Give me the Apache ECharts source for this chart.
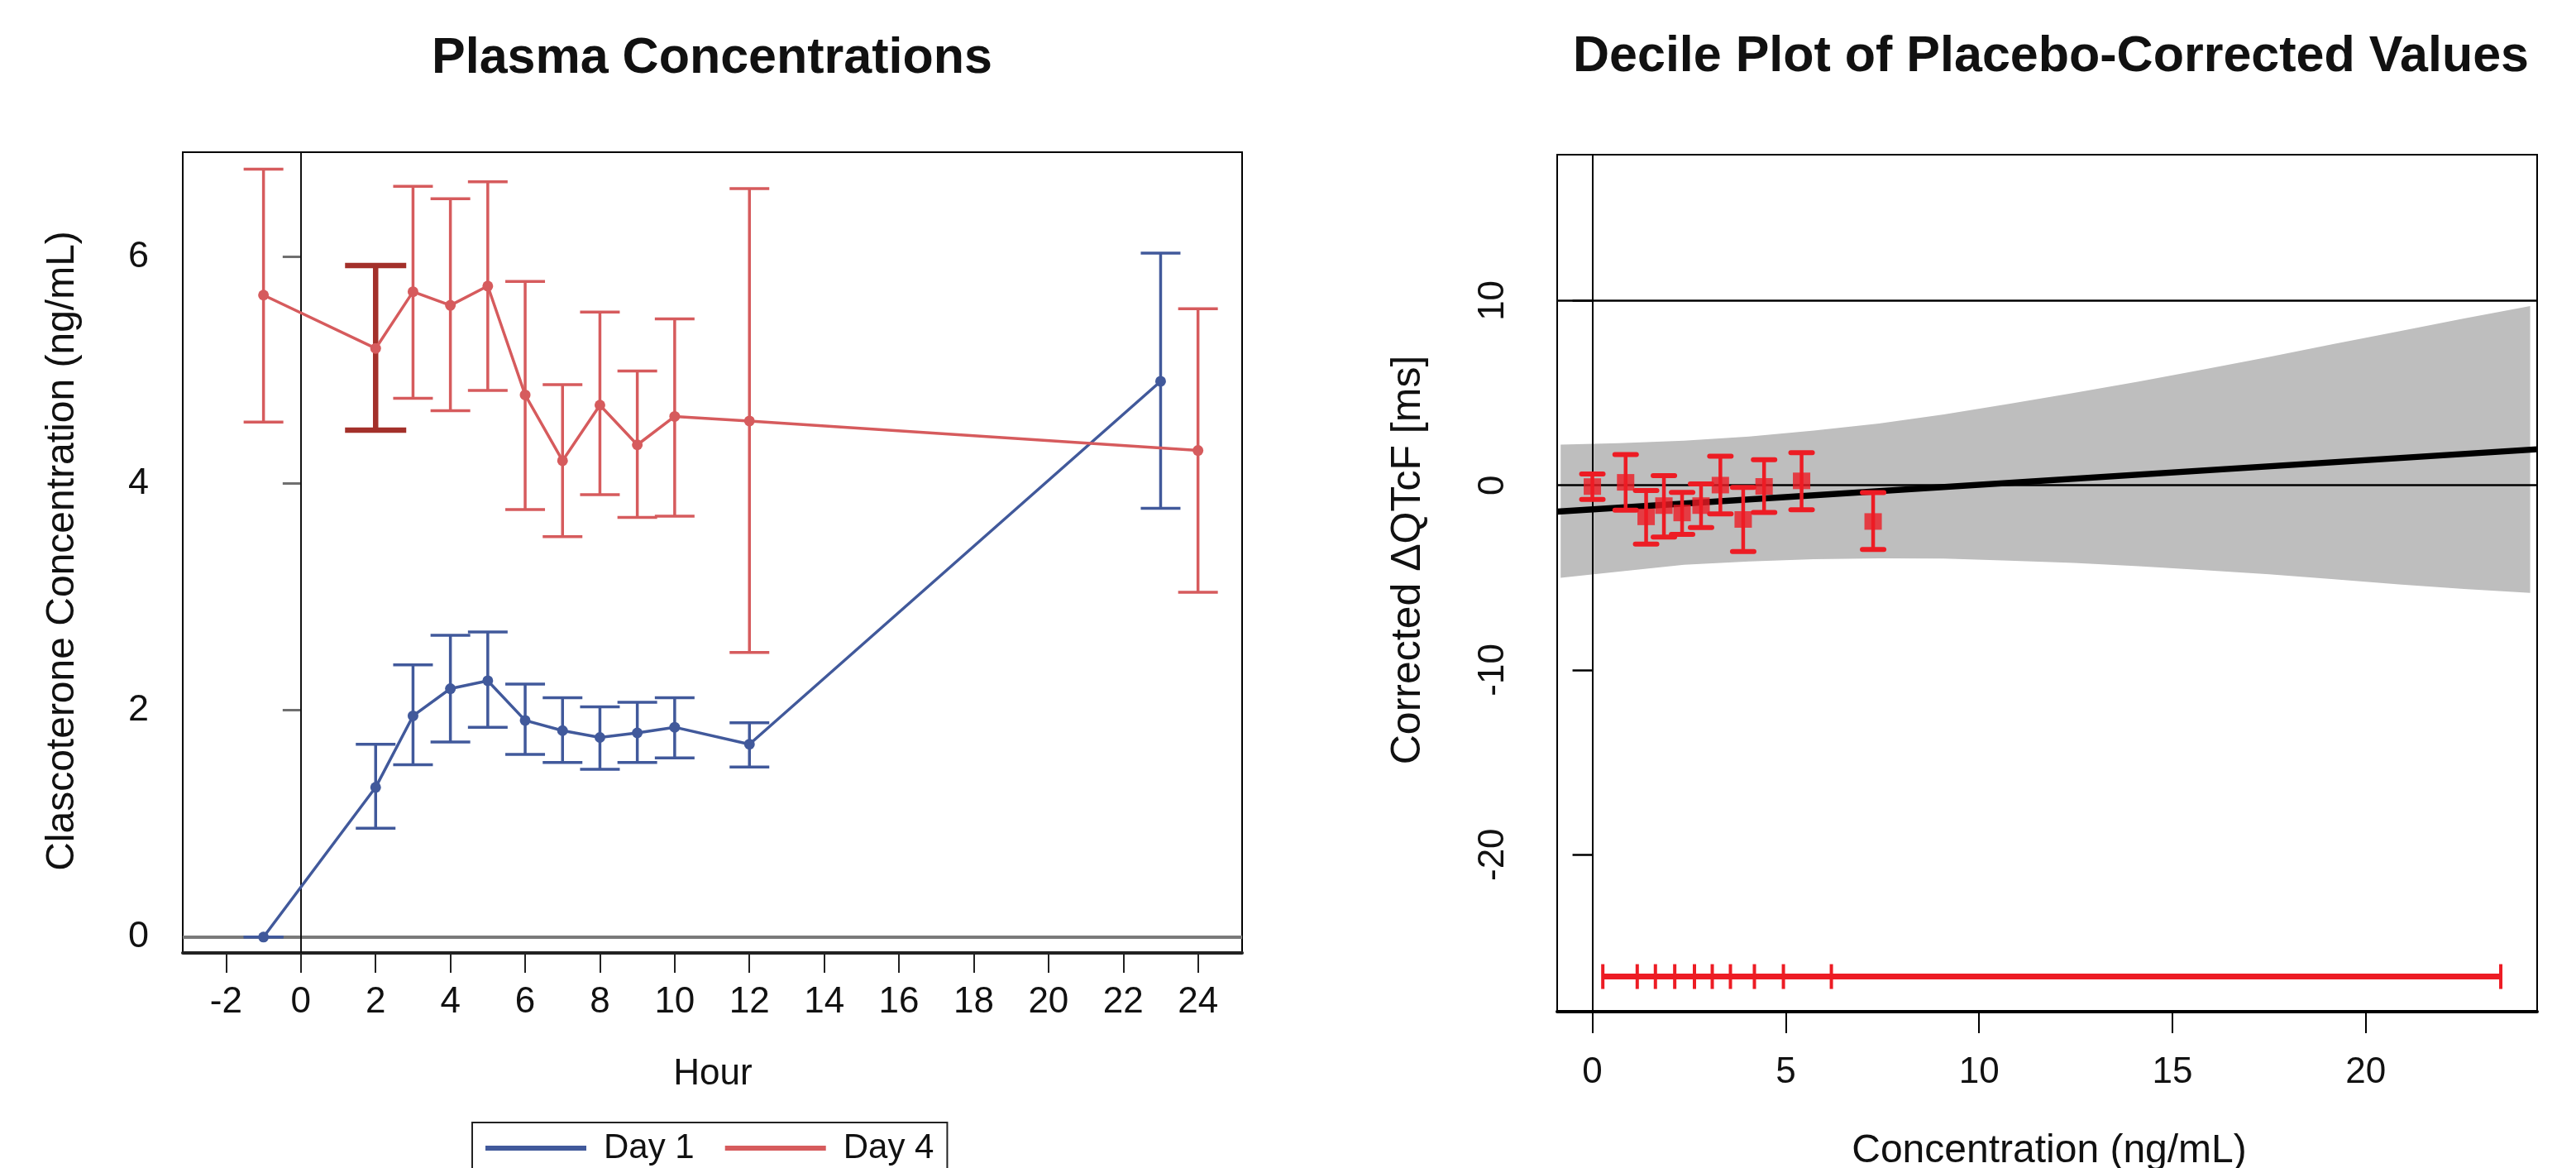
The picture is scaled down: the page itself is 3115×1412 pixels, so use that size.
<!DOCTYPE html>
<html>
<head>
<meta charset="utf-8">
<script src="https://cdn.jsdelivr.net/npm/echarts@6/dist/echarts.min.js"></script>
<style>
html,body{margin:0;padding:0;background:#ffffff;}
#chart{width:3115px;height:1412px;}
</style>
</head>
<body>
<div id="chart"></div>
<script>
// ---------------- Left panel: Plasma Concentrations ----------------
const hourTicks = [-2, 0, 2, 4, 6, 8, 10, 12, 14, 16, 18, 20, 22, 24];
const concTicks = [0, 2, 4, 6];

const day1Hours = [-1, 2, 3, 4, 5, 6, 7, 8, 9, 10, 12, 23];
const day1Mean  = [0, 1.32, 1.95, 2.19, 2.26, 1.91, 1.82, 1.76, 1.80, 1.85, 1.70, 4.90];
const day1Lower = [0, 0.96, 1.52, 1.72, 1.85, 1.61, 1.54, 1.48, 1.54, 1.58, 1.50, 3.78];
const day1Upper = [0, 1.70, 2.40, 2.66, 2.69, 2.23, 2.11, 2.03, 2.07, 2.11, 1.89, 6.03];

const day4Hours = [-1, 2, 3, 4, 5, 6, 7, 8, 9, 10, 12, 24];
const day4Mean  = [5.66, 5.19, 5.69, 5.57, 5.74, 4.78, 4.20, 4.69, 4.34, 4.59, 4.55, 4.29];
const day4Lower = [4.54, 4.47, 4.75, 4.64, 4.82, 3.77, 3.53, 3.90, 3.70, 3.71, 2.51, 3.04];
const day4Upper = [6.77, 5.92, 6.62, 6.51, 6.66, 5.78, 4.87, 5.51, 4.99, 5.45, 6.60, 5.54];
const day4HighlightHour = 2;

// ---------------- Right panel: Decile plot ----------------
const concAxisTicks = [0, 5, 10, 15, 20];
const qtAxisTicks = [-20, -10, 0, 10];
const qtRefLines = [0, 10];

const decileConc   = [0, 0.86, 1.39, 1.85, 2.32, 2.81, 3.31, 3.90, 4.44, 5.41, 7.26];
const decileDQTcF  = [-0.07, 0.16, -1.71, -1.10, -1.50, -1.10, 0.01, -1.85, -0.06, 0.24, -1.96];
const decileLower  = [-0.76, -1.35, -3.18, -2.80, -2.66, -2.29, -1.55, -3.59, -1.47, -1.32, -3.48];
const decileUpper  = [0.61, 1.67, -0.28, 0.52, -0.39, 0.07, 1.58, -0.12, 1.38, 1.76, -0.40];

const decileBounds = [0.27, 1.16, 1.63, 2.13, 2.64, 3.10, 3.57, 4.19, 4.94, 6.18, 23.49];
const decileBarLevel = -26.6;

const fitConc  = [-0.91, 24.43];
const fitDQTcF = [-1.43, 1.95];

const bandConc  = [-0.82, 0.69, 2.37, 4.05, 5.73, 7.41, 9.09, 10.77, 12.45, 14.13, 15.82, 17.50, 19.18, 20.86, 22.54, 24.25];
const bandUpper = [2.20, 2.28, 2.42, 2.64, 2.96, 3.34, 3.84, 4.41, 5.00, 5.62, 6.28, 6.95, 7.65, 8.34, 9.03, 9.70];
const bandLower = [-5.01, -4.67, -4.30, -4.12, -4.00, -3.96, -3.97, -4.08, -4.20, -4.38, -4.60, -4.82, -5.09, -5.37, -5.61, -5.83];

// ---------------- Styling ----------------
const FONT = "'Liberation Sans', Arial, Helvetica, sans-serif";
const BLUE = '#41599B';
const RED = '#D65B5D';
const DARKRED = '#A3302A';
const BRIGHTRED = '#ED1C24';

function errorBarRenderer(o) {
  return function (params, api) {
    const x = api.value(0), lo = api.value(1), hi = api.value(2);
    const hl = o.highlightX !== undefined && x === o.highlightX;
    const color = hl ? o.hiColor : o.color;
    const lw = hl ? o.hiWidth : o.width;
    const half = hl ? o.hiCap : o.cap;
    const a = api.coord([x, hi]);
    const b = api.coord([x, lo]);
    const style = { stroke: color, lineWidth: lw, lineCap: o.lineCap || 'butt', fill: null };
    const capStyle = { stroke: color, lineWidth: hl ? lw : (o.capWidth || lw), lineCap: o.lineCap || 'butt', fill: null };
    return {
      type: 'group',
      children: [
        { type: 'line', shape: { x1: a[0], y1: a[1], x2: b[0], y2: b[1] }, style: style },
        { type: 'line', shape: { x1: a[0] - half, y1: a[1], x2: a[0] + half, y2: a[1] }, style: capStyle },
        { type: 'line', shape: { x1: b[0] - half, y1: b[1], x2: b[0] + half, y2: b[1] }, style: capStyle }
      ]
    };
  };
}

const chart = echarts.init(document.getElementById('chart'), null, { renderer: 'canvas' });

const option = {
  animation: false,
  backgroundColor: '#ffffff',
  textStyle: { fontFamily: FONT },
  grid: [
    { left: 221, top: 184, width: 1281, height: 968, show: true, borderColor: '#000', borderWidth: 2, backgroundColor: 'transparent' },
    { left: 1883, top: 187, width: 1185, height: 1036, show: true, borderColor: '#000', borderWidth: 2, backgroundColor: 'transparent' }
  ],
  xAxis: [
    {
      gridIndex: 0, type: 'value', min: -3.16, max: 25.18,
      axisLine: { show: true, onZero: false, lineStyle: { color: '#222', width: 4 } },
      axisTick: { show: true, length: 24, customValues: hourTicks, lineStyle: { color: '#222', width: 2 } },
      axisLabel: { show: true, customValues: hourTicks, margin: 38, fontSize: 44, color: '#111', fontFamily: FONT },
      splitLine: { show: false }
    },
    {
      gridIndex: 1, type: 'value', min: -0.91, max: 24.43,
      axisLine: { show: true, onZero: false, lineStyle: { color: '#000', width: 4 } },
      axisTick: { show: true, length: 26, customValues: concAxisTicks, lineStyle: { color: '#000', width: 2 } },
      axisLabel: { show: true, customValues: concAxisTicks, margin: 52, fontSize: 44, color: '#111', fontFamily: FONT },
      splitLine: { show: false }
    }
  ],
  yAxis: [
    {
      gridIndex: 0, type: 'value', min: -0.14, max: 6.92,
      axisLine: { show: false },
      axisTick: { show: true, length: 22, customValues: concTicks, lineStyle: { color: '#6f6f6f', width: 3 } },
      axisLabel: { show: true, customValues: concTicks, margin: 41, fontSize: 45, color: '#111', fontFamily: FONT },
      splitLine: { show: false }
    },
    {
      gridIndex: 1, type: 'value', min: -28.5, max: 17.9,
      axisLine: { show: false },
      axisTick: { show: true, length: 24, customValues: qtAxisTicks, lineStyle: { color: '#000', width: 2.5 } },
      axisLabel: { show: true, customValues: qtAxisTicks, rotate: 90, margin: 55, fontSize: 44, color: '#111', fontFamily: FONT },
      splitLine: { show: false }
    }
  ],
  legend: {
    data: ['Day 1', 'Day 4'],
    left: 571, top: 1357,
    orient: 'horizontal',
    icon: 'rect',
    itemWidth: 122, itemHeight: 6, itemGap: 37,
    padding: [10, 16, 30, 16],
    borderColor: '#222', borderWidth: 2,
    textStyle: { fontSize: 42, color: '#111', fontFamily: FONT, padding: [0, 0, 0, 16] },
    selectedMode: false
  },
  graphic: [
    { type: 'text', x: 861, y: 71, style: { text: 'Plasma Concentrations', font: "bold 61px " + FONT, fill: '#111', textAlign: 'center', textVerticalAlign: 'middle' } },
    { type: 'text', x: 2480, y: 69, style: { text: 'Decile Plot of Placebo-Corrected Values', font: "bold 61px " + FONT, fill: '#111', textAlign: 'center', textVerticalAlign: 'middle' } },
    { type: 'text', x: 76, y: 666, rotation: Math.PI / 2, style: { text: 'Clascoterone Concentration (ng/mL)', font: "48px " + FONT, fill: '#111', textAlign: 'center', textVerticalAlign: 'middle' } },
    { type: 'text', x: 862, y: 1299, style: { text: 'Hour', font: "44px " + FONT, fill: '#111', textAlign: 'center', textVerticalAlign: 'middle' } },
    { type: 'text', x: 1703, y: 677, rotation: Math.PI / 2, style: { text: 'Corrected \u0394QTcF [ms]', font: "50px " + FONT, fill: '#111', textAlign: 'center', textVerticalAlign: 'middle' } },
    { type: 'text', x: 2478, y: 1392, style: { text: 'Concentration (ng/mL)', font: "48px " + FONT, fill: '#111', textAlign: 'center', textVerticalAlign: 'middle' } }
  ],
  series: [
    // ----- left reference lines -----
    {
      type: 'line', xAxisIndex: 0, yAxisIndex: 0, data: [], silent: true, z: 1,
      markLine: {
        silent: true, symbol: 'none', z: 1, label: { show: false },
        data: [
          { yAxis: 0, lineStyle: { color: '#7a7a7a', width: 4, type: 'solid' } },
          { xAxis: 0, lineStyle: { color: '#111', width: 2, type: 'solid' } }
        ]
      }
    },
    // ----- Day 1 -----
    {
      type: 'custom', xAxisIndex: 0, yAxisIndex: 0, z: 3,
      itemStyle: { color: BLUE },
      renderItem: errorBarRenderer({ color: BLUE, width: 3.5, cap: 24 }),
      data: day1Hours.map((h, i) => [h, day1Lower[i], day1Upper[i]]),
      encode: { x: 0, y: [1, 2] }
    },
    {
      name: 'Day 1', type: 'line', xAxisIndex: 0, yAxisIndex: 0, z: 4,
      data: day1Hours.map((h, i) => [h, day1Mean[i]]),
      symbol: 'circle', symbolSize: 13, showSymbol: true,
      itemStyle: { color: BLUE }, lineStyle: { color: BLUE, width: 3.5 }
    },
    // ----- Day 4 -----
    {
      type: 'custom', xAxisIndex: 0, yAxisIndex: 0, z: 5,
      itemStyle: { color: RED },
      renderItem: errorBarRenderer({ color: RED, width: 3.5, cap: 24, highlightX: day4HighlightHour, hiColor: DARKRED, hiWidth: 6.5, hiCap: 37 }),
      data: day4Hours.map((h, i) => [h, day4Lower[i], day4Upper[i]]),
      encode: { x: 0, y: [1, 2] }
    },
    {
      name: 'Day 4', type: 'line', xAxisIndex: 0, yAxisIndex: 0, z: 6,
      data: day4Hours.map((h, i) => [h, day4Mean[i]]),
      symbol: 'circle', symbolSize: 13, showSymbol: true,
      itemStyle: { color: RED }, lineStyle: { color: RED, width: 3.5 }
    },
    // ----- right: confidence band -----
    {
      type: 'custom', xAxisIndex: 1, yAxisIndex: 1, z: 1, silent: true,
      itemStyle: { color: '#BEBEBE' },
      data: [[bandConc[0], bandLower[0]]],
      renderItem: function (params, api) {
        const pts = [];
        for (let i = 0; i < bandConc.length; i++) pts.push(api.coord([bandConc[i], bandUpper[i]]));
        for (let i = bandConc.length - 1; i >= 0; i--) pts.push(api.coord([bandConc[i], bandLower[i]]));
        return { type: 'polygon', shape: { points: pts }, style: { fill: '#BEBEBE', stroke: null } };
      },
      markLine: {
        silent: true, symbol: 'none', z: 2, label: { show: false },
        lineStyle: { color: '#000', width: 2.5, type: 'solid' },
        data: qtRefLines.map(v => ({ yAxis: v })).concat([{ xAxis: 0, lineStyle: { color: '#000', width: 2, type: 'solid' } }])
      }
    },
    // ----- regression line -----
    {
      type: 'line', xAxisIndex: 1, yAxisIndex: 1, z: 6, silent: true,
      data: fitConc.map((c, i) => [c, fitDQTcF[i]]),
      symbol: 'none', lineStyle: { color: '#000', width: 7.5 }
    },
    // ----- decile error bars -----
    {
      type: 'custom', xAxisIndex: 1, yAxisIndex: 1, z: 7,
      itemStyle: { color: BRIGHTRED },
      renderItem: errorBarRenderer({ color: BRIGHTRED, width: 4.5, capWidth: 6, cap: 13, lineCap: 'round' }),
      data: decileConc.map((c, i) => [c, decileLower[i], decileUpper[i]]),
      encode: { x: 0, y: [1, 2] }
    },
    {
      type: 'scatter', xAxisIndex: 1, yAxisIndex: 1, z: 8,
      data: decileConc.map((c, i) => [c, decileDQTcF[i]]),
      symbol: 'rect', symbolSize: [21, 20],
      itemStyle: { color: BRIGHTRED }
    },
    // ----- decile concentration bar -----
    {
      type: 'custom', xAxisIndex: 1, yAxisIndex: 1, z: 7, silent: true,
      itemStyle: { color: BRIGHTRED },
      data: [[decileBounds[0], decileBarLevel]],
      renderItem: function (params, api) {
        const first = api.coord([decileBounds[0], decileBarLevel]);
        const last = api.coord([decileBounds[decileBounds.length - 1], decileBarLevel]);
        const children = [
          { type: 'line', shape: { x1: first[0], y1: first[1], x2: last[0], y2: last[1] }, style: { stroke: BRIGHTRED, lineWidth: 7 } }
        ];
        decileBounds.forEach(b => {
          const p = api.coord([b, decileBarLevel]);
          children.push({ type: 'line', shape: { x1: p[0], y1: p[1] - 15, x2: p[0], y2: p[1] + 15 }, style: { stroke: BRIGHTRED, lineWidth: 4 } });
        });
        return { type: 'group', children: children };
      }
    }
  ]
};

chart.setOption(option);
</script>
</body>
</html>
